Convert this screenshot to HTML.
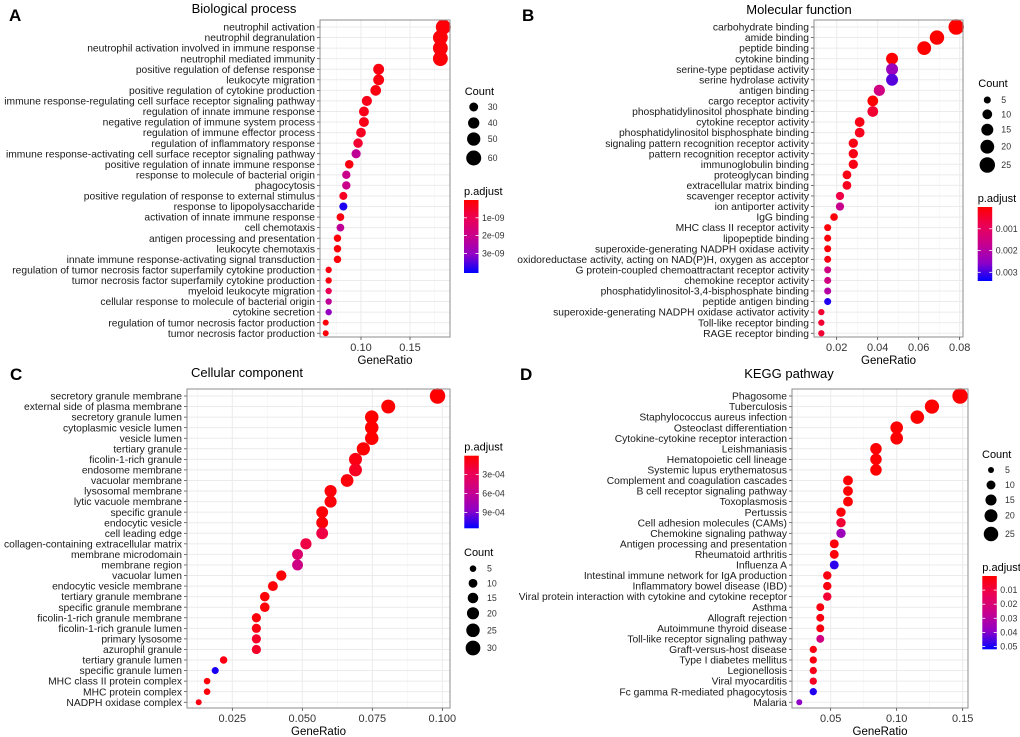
<!DOCTYPE html>
<html><head><meta charset="utf-8">
<style>
html,body{margin:0;padding:0;background:#fff;}
svg{display:block;font-family:"Liberation Sans",Arial,sans-serif;}
</style></head>
<body>
<svg id="fig" width="1020" height="737" viewBox="0 0 1020 737">
<defs>
<linearGradient id="pgrad" x1="0" y1="0" x2="0" y2="1">
<stop offset="0" stop-color="#FF0000"/><stop offset="0.25" stop-color="#EB0055"/><stop offset="0.5" stop-color="#C7008E"/><stop offset="0.75" stop-color="#9000C6"/><stop offset="1" stop-color="#0000FF"/>
</linearGradient>
</defs>
</svg>
<script>
// ---------- Panel A data ----------
const termsA = ["neutrophil activation","neutrophil degranulation","neutrophil activation involved in immune response","neutrophil mediated immunity","positive regulation of defense response","leukocyte migration","positive regulation of cytokine production","immune response-regulating cell surface receptor signaling pathway","regulation of innate immune response","negative regulation of immune system process","regulation of immune effector process","regulation of inflammatory response","immune response-activating cell surface receptor signaling pathway","positive regulation of innate immune response","response to molecule of bacterial origin","phagocytosis","positive regulation of response to external stimulus","response to lipopolysaccharide","activation of innate immune response","cell chemotaxis","antigen processing and presentation","leukocyte chemotaxis","innate immune response-activating signal transduction","regulation of tumor necrosis factor superfamily cytokine production","tumor necrosis factor superfamily cytokine production","myeloid leukocyte migration","cellular response to molecule of bacterial origin","cytokine secretion","regulation of tumor necrosis factor production","tumor necrosis factor production"];
const ratioA = [0.184,0.181,0.181,0.181,0.118,0.118,0.115,0.106,0.103,0.103,0.100,0.097,0.095,0.088,0.085,0.085,0.082,0.082,0.079,0.079,0.076,0.076,0.076,0.067,0.067,0.067,0.067,0.067,0.064,0.064];
const countA = [60,59,59,59,38,38,37,35,34,34,33,32,31,29,28,28,27,27,26,26,25,25,25,22,22,22,22,22,21,21];
const padjA = [0.1e-9,0.1e-9,0.1e-9,0.1e-9,0.2e-9,0.2e-9,0.2e-9,0.3e-9,0.3e-9,0.3e-9,0.4e-9,0.6e-9,2.2e-9,0.2e-9,2.0e-9,2.0e-9,0.4e-9,3.9e-9,0.2e-9,2.2e-9,0.1e-9,0.1e-9,0.1e-9,0.2e-9,0.2e-9,1.0e-9,2.2e-9,3.0e-9,0.1e-9,0.1e-9];
const xTicksA = [0.10,0.15];
const sizeLegA = [30,40,50,60];
const colorTicksA = [1e-9,2e-9,3e-9];
const colorTickLabA = ["1e-09","2e-09","3e-09"];

// ---------- Panel B data ----------
const termsB = ["carbohydrate binding","amide binding","peptide binding","cytokine binding","serine-type peptidase activity","serine hydrolase activity","antigen binding","cargo receptor activity","phosphatidylinositol phosphate binding","cytokine receptor activity","phosphatidylinositol bisphosphate binding","signaling pattern recognition receptor activity","pattern recognition receptor activity","immunoglobulin binding","proteoglycan binding","extracellular matrix binding","scavenger receptor activity","ion antiporter activity","IgG binding","MHC class II receptor activity","lipopeptide binding","superoxide-generating NADPH oxidase activity","oxidoreductase activity, acting on NAD(P)H, oxygen as acceptor","G protein-coupled chemoattractant receptor activity","chemokine receptor activity","phosphatidylinositol-3,4-bisphosphate binding","peptide antigen binding","superoxide-generating NADPH oxidase activator activity","Toll-like receptor binding","RAGE receptor binding"];
const ratioB = [0.0783,0.0689,0.0627,0.047,0.047,0.047,0.0408,0.0376,0.0376,0.0312,0.0312,0.0281,0.0281,0.0281,0.025,0.025,0.0216,0.0216,0.0187,0.0156,0.0156,0.0156,0.0156,0.0156,0.0156,0.0156,0.0156,0.0125,0.0125,0.0125];
const countB = [25,22,20,15,15,15,13,12,12,10,10,9,9,9,8,8,7,7,6,5,5,5,5,5,5,5,5,4,4,4];
const padjB = [0,0,0,0,0.0024,0.0029,0.0015,0,0.0005,0.0002,0.0003,0.0002,0.0002,0.0002,0.0002,0.0003,0.0007,0.0017,0.0001,0.0001,0.0001,0.0001,0.0002,0.0015,0.0015,0.002,0.0032,0.0005,0.0005,0.0005];
const xTicksB = [0.02,0.04,0.06,0.08];
const sizeLegB = [5,10,15,20,25];
const colorTicksB = [0.001,0.002,0.003];
const colorTickLabB = ["0.001","0.002","0.003"];

// ---------- Panel C data ----------
const termsC = ["secretory granule membrane","external side of plasma membrane","secretory granule lumen","cytoplasmic vesicle lumen","vesicle lumen","tertiary granule","ficolin-1-rich granule","endosome membrane","vacuolar membrane","lysosomal membrane","lytic vacuole membrane","specific granule","endocytic vesicle","cell leading edge","collagen-containing extracellular matrix","membrane microdomain","membrane region","vacuolar lumen","endocytic vesicle membrane","tertiary granule membrane","specific granule membrane","ficolin-1-rich granule membrane","ficolin-1-rich granule lumen","primary lysosome","azurophil granule","tertiary granule lumen","specific granule lumen","MHC class II protein complex","MHC protein complex","NADPH oxidase complex"];
const ratioC = [0.0983,0.0807,0.0748,0.0748,0.0748,0.0718,0.069,0.069,0.066,0.0601,0.0601,0.0571,0.0571,0.0571,0.0513,0.0483,0.0483,0.0425,0.0395,0.0366,0.0366,0.0336,0.0336,0.0336,0.0336,0.0219,0.0189,0.016,0.016,0.013];
const countC = [33,27,25,25,25,24,23,23,22,20,20,19,19,19,17,16,16,14,13,12,12,11,11,11,11,7,6,5,5,4];
const padjC = [0,0,0,0,0,0,0.00006,0.00011,0.00003,0.00003,0.00003,0.00002,0.00003,0.00023,0.00023,0.0004,0.00052,0.00002,0.00002,0.00002,0.00002,0.00003,0.00006,0.00014,0.00014,0.00006,0.0011,0.00003,0.00003,0.00006];
const xTicksC = [0.025,0.050,0.075,0.100];
const xTickLabC = ["0.025","0.050","0.075","0.100"];
const sizeLegC = [5,10,15,20,25,30];
const colorTicksC = [0.0003,0.0006,0.0009];
const colorTickLabC = ["3e-04","6e-04","9e-04"];

// ---------- Panel D data ----------
const termsD = ["Phagosome","Tuberculosis","Staphylococcus aureus infection","Osteoclast differentiation","Cytokine-cytokine receptor interaction","Leishmaniasis","Hematopoietic cell lineage","Systemic lupus erythematosus","Complement and coagulation cascades","B cell receptor signaling pathway","Toxoplasmosis","Pertussis","Cell adhesion molecules (CAMs)","Chemokine signaling pathway","Antigen processing and presentation","Rheumatoid arthritis","Influenza A","Intestinal immune network for IgA production","Inflammatory bowel disease (IBD)","Viral protein interaction with cytokine and cytokine receptor","Asthma","Allograft rejection","Autoimmune thyroid disease","Toll-like receptor signaling pathway","Graft-versus-host disease","Type I diabetes mellitus","Legionellosis","Viral myocarditis","Fc gamma R-mediated phagocytosis","Malaria"];
const ratioD = [0.148,0.1267,0.1156,0.100,0.100,0.0843,0.0843,0.0843,0.0631,0.0631,0.0631,0.0578,0.0578,0.0578,0.0527,0.0527,0.0527,0.0474,0.0474,0.0474,0.0421,0.0421,0.0421,0.0421,0.0368,0.0368,0.0368,0.0368,0.0368,0.0262];
const countD = [28,24,22,19,19,16,16,16,12,12,12,11,11,11,10,10,10,9,9,9,8,8,8,8,7,7,7,7,7,5];
const padjD = [0.0002,0.0002,0.0002,0.0003,0.0003,0.0003,0.0003,0.0003,0.0004,0.0004,0.0004,0.0015,0.008,0.036,0.0015,0.0015,0.048,0.0026,0.0026,0.008,0.0026,0.0026,0.0026,0.023,0.0026,0.0026,0.0036,0.005,0.049,0.039];
const xTicksD = [0.05,0.10,0.15];
const sizeLegD = [5,10,15,20,25];
const colorTicksD = [0.01,0.02,0.03,0.04,0.05];
const colorTickLabD = ["0.01","0.02","0.03","0.04","0.05"];

const NS = "http://www.w3.org/2000/svg";
const svg = document.getElementById("fig");
function mk(tag, attrs, parent){const e=document.createElementNS(NS,tag);for(const k in attrs)e.setAttribute(k,attrs[k]);(parent||svg).appendChild(e);return e;}
const stops=[[0,[255,0,0]],[0.25,[235,0,85]],[0.5,[199,0,142]],[0.75,[144,0,198]],[1,[0,0,255]]];
function colorAt(t){t=Math.max(0,Math.min(1,t));for(let i=0;i<stops.length-1;i++){const [a,ca]=stops[i],[b,cb]=stops[i+1];if(t<=b){const f=(t-a)/(b-a);return "rgb("+ca.map((c,j)=>Math.round(c+(cb[j]-c)*f)).join(",")+")";}}return "rgb(0,0,255)";}

function drawPanel(P){
  const g = mk("g",{});
  
  
  const x = v => P.xp0 + (v - P.xv0) * P.k;
  const y = i => P.row0 + i * P.rowStep;
  const r = c => Math.sqrt(P.ra + (c - P.cmin) * (P.rmax*P.rmax - P.ra) / (P.cmax - P.cmin));
  const lt = mk("text",{x:P.letterX,y:P.letterY,"font-size":17,"font-weight":"bold",fill:"#000"},g);
  lt.textContent = P.letter;
  
  
  const tt = mk("text",{x:P.titleX,y:P.titleY,"font-size":13,"text-anchor":"middle",fill:"#000"},g);
  tt.textContent = P.title;
  
  
  mk("rect",{x:P.L,y:P.T,width:P.R-P.L,height:P.B-P.T,fill:"#fff"},g);
  const step = P.ticks[1]-P.ticks[0];
  for(let v=P.ticks[0]-step*3.5; v<P.ticks[P.ticks.length-1]+step*3; v+=step){
    const px=x(v); if(px>P.L&&px<P.R) mk("line",{x1:px,x2:px,y1:P.T,y2:P.B,stroke:"#F3F3F3","stroke-width":0.6},g);
  }
  P.ticks.forEach(v=>{const px=x(v);mk("line",{x1:px,x2:px,y1:P.T,y2:P.B,stroke:"#EBEBEB","stroke-width":1},g);});
  P.terms.forEach((t,i)=>mk("line",{x1:P.L,x2:P.R,y1:y(i),y2:y(i),stroke:"#EBEBEB","stroke-width":1},g));
  P.terms.forEach((t,i)=>{
    mk("line",{x1:P.L-3,x2:P.L,y1:y(i),y2:y(i),stroke:"#333","stroke-width":0.7},g);
    const tx = mk("text",{x:P.L-5,y:y(i)+3.6,"font-size":10.3,"text-anchor":"end",fill:"#1a1a1a"},g);
    tx.textContent = t;
    
    
  });
  P.terms.forEach((t,i)=>{
    const c = mk("circle",{cx:x(P.ratio[i]),cy:y(i),r:r(P.count[i]),fill:colorAt(P.padj[i]/P.pmax)},g);
    
    
  });
  mk("rect",{x:P.L,y:P.T,width:P.R-P.L,height:P.B-P.T,fill:"none",stroke:"#8c8c8c","stroke-width":1},g);
  P.ticks.forEach((v,i)=>{
    const px=x(v);
    mk("line",{x1:px,x2:px,y1:P.B,y2:P.B+3,stroke:"#333","stroke-width":0.7},g);
    const tx = mk("text",{x:px,y:P.B+14,"font-size":11,"text-anchor":"middle",fill:"#333"},g);
    tx.textContent = P.tickLab ? P.tickLab[i] : v.toFixed(2);
    
    
  });
  const xt = mk("text",{x:(P.L+P.R)/2,y:P.B+27,"font-size":11.5,"text-anchor":"middle",fill:"#000"},g);
  xt.textContent = "GeneRatio";
  
  
  const st = mk("text",{x:P.szX-9,y:P.szTitleY,"font-size":11,fill:"#000"},g);
  st.textContent = "Count";
  
  
  P.sizeLeg.forEach((c,i)=>{
    const cy = P.szY[i];
    const d = mk("circle",{cx:P.szX,cy:cy,r:r(c),fill:"#000"},g);
    
    
    const tx = mk("text",{x:P.szX+14,y:cy+3,"font-size":8.8,fill:"#333"},g);
    tx.textContent = c;
    
    
  });
  const ct = mk("text",{x:P.cbX,y:P.cbY-5,"font-size":11,fill:"#000"},g);
  ct.textContent = "p.adjust";
  
  
  const bar = mk("rect",{x:P.cbX,y:P.cbY,width:14.5,height:P.cbH,fill:"url(#pgrad)"},g);
  
  
  P.cTicks.forEach((v,i)=>{
    const cy = P.cbY + v/P.pmax*P.cbH;
    mk("line",{x1:P.cbX,x2:P.cbX+3,y1:cy,y2:cy,stroke:"#fff","stroke-width":0.8},g);
    mk("line",{x1:P.cbX+11.5,x2:P.cbX+14.5,y1:cy,y2:cy,stroke:"#fff","stroke-width":0.8},g);
    const tx = mk("text",{x:P.cbX+18,y:cy+3,"font-size":8.8,fill:"#333"},g);
    tx.textContent = P.cTickLab[i];
    
    
  });
}

drawPanel({name:"panel-a-biological-process",letter:"A",letterX:9,letterY:21,title:"Biological process",titleX:244,titleY:13,
  L:320,R:450,T:20,B:337,row0:27,rowStep:10.56,xv0:0.10,xp0:361,k:980,ticks:xTicksA,
  terms:termsA,ratio:ratioA,count:countA,padj:padjA,pmax:4.1e-9,cmin:21,cmax:60,ra:9,rmax:7.5,
  sizeLeg:sizeLegA,szX:473.7,szTitleY:95,szY:[107,123,139,158],
  cbX:464,cbY:200,cbH:73,cTicks:colorTicksA,cTickLab:colorTickLabA});
drawPanel({name:"panel-b-molecular-function",letter:"B",letterX:522,letterY:21,title:"Molecular function",titleX:799,titleY:14,
  L:814,R:963,T:20,B:337,row0:27,rowStep:10.56,xv0:0.02,xp0:836.7,k:2050,ticks:xTicksB,
  terms:termsB,ratio:ratioB,count:countB,padj:padjB,pmax:0.0034,cmin:4,cmax:25,ra:10,rmax:7.7,
  sizeLeg:sizeLegB,szX:987.3,szTitleY:87,szY:[100,114.3,129.7,146.7,165],
  cbX:977.7,cbY:207,cbH:74,cTicks:colorTicksB,cTickLab:colorTickLabB});
drawPanel({name:"panel-c-cellular-component",letter:"C",letterX:10,letterY:380,title:"Cellular component",titleX:247,titleY:377,
  L:187,R:450,T:389,B:708,row0:396,rowStep:10.56,xv0:0.025,xp0:232.3,k:2800,ticks:xTicksC,tickLab:xTickLabC,
  terms:termsC,ratio:ratioC,count:countC,padj:padjC,pmax:0.00115,cmin:4,cmax:33,ra:9,rmax:7.7,
  sizeLeg:sizeLegC,szX:473,szTitleY:556,szY:[568.7,583.3,598,613.3,630.3,648],
  cbX:464.3,cbY:455.7,cbH:72.6,cTicks:colorTicksC,cTickLab:colorTickLabC});
drawPanel({name:"panel-d-kegg-pathway",letter:"D",letterX:520,letterY:380,title:"KEGG pathway",titleX:789,titleY:378,
  L:792,R:968,T:389,B:708,row0:396,rowStep:10.56,xv0:0.05,xp0:830.7,k:1320,ticks:xTicksD,
  terms:termsD,ratio:ratioD,count:countD,padj:padjD,pmax:0.052,cmin:5,cmax:28,ra:9,rmax:7.7,
  sizeLeg:sizeLegD,szX:991,szTitleY:458,szY:[470,485,500,515.7,534],
  cbX:982.3,cbY:576,cbH:73.3,cTicks:colorTicksD,cTickLab:colorTickLabD});
</script>
</body></html>
